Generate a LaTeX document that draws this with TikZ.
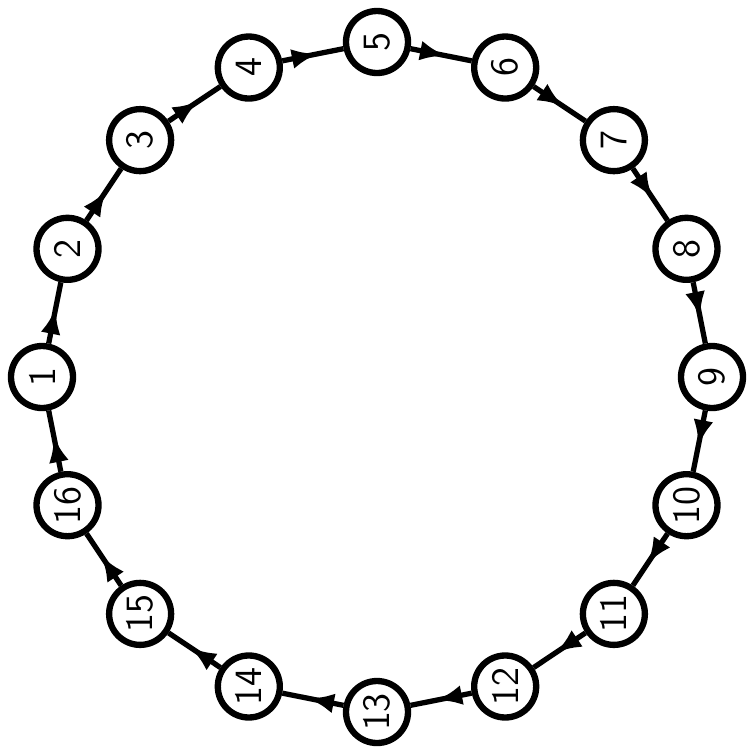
\documentclass[tikz,border=0pt]{standalone}
\usepackage{tikz}
\usetikzlibrary{arrows.meta,calc,decorations.markings}

\tikzset{
  station/.style={draw, circle, line width=1.8pt, minimum size=0.62cm, inner sep=0pt,
    font=\sffamily\fontsize{11}{11}\selectfont},
  link/.style={line width=1.5pt, decoration={markings,
    mark=at position 0.58 with {\arrow{Latex[length=0.26cm,width=0.2cm]}}}, postaction={decorate}}
}

\begin{document}
\begin{tikzpicture}
\useasboundingbox (0,0) rectangle (7.56,7.49);
\coordinate (c) at (3.77,3.72);
\foreach \k in {1,...,16}
  \node[station] (n\k) at ($(c)+({180-(\k-1)*22.5}:3.35)$) {\rotatebox{90}{\k}};
\foreach \k [evaluate=\k as \j using {int(mod(\k,16)+1)}] in {1,...,16}
  \draw[link] (n\k) -- (n\j);
\end{tikzpicture}
\end{document}
